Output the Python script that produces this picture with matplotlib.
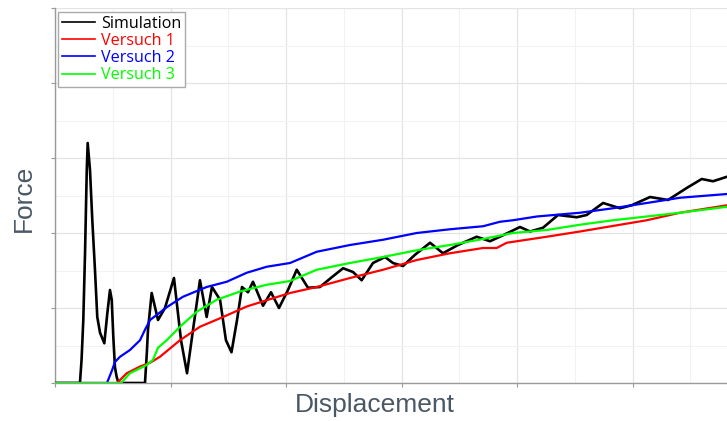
import matplotlib
matplotlib.use("Agg")
import matplotlib.pyplot as plt
from matplotlib.lines import Line2D
from matplotlib.ticker import MultipleLocator, NullFormatter

# Data (arbitrary units)
sim_x = [0, 0.216, 0.230, 0.245, 0.260, 0.275, 0.283, 0.303, 0.323, 0.346, 0.366,
         0.390, 0.427, 0.453, 0.476, 0.491, 0.505, 0.519, 0.534, 0.550, 0.779,
         0.795, 0.805, 0.837, 0.892, 0.952, 1.030, 1.091, 1.143, 1.195, 1.255, 1.313, 1.359,
         1.429, 1.480, 1.528, 1.576, 1.619, 1.671, 1.714, 1.801, 1.870, 1.939, 2.017,
         2.093, 2.190, 2.294, 2.396, 2.494, 2.580, 2.655, 2.753, 2.857, 2.926, 3.013,
         3.117, 3.247, 3.359, 3.489, 3.651, 3.766, 3.879, 4.026, 4.113, 4.225, 4.355,
         4.517, 4.603, 4.745, 4.892, 4.993, 5.152, 5.307, 5.469, 5.599, 5.697, 5.818]
sim_y = [0, 0, 0.31, 0.84, 1.73, 2.84, 3.20, 2.84, 2.17, 1.51, 0.88,
         0.67, 0.53, 0.93, 1.24, 1.11, 0.61, 0.21, 0.08, 0, 0,
         0.40, 0.71, 1.20, 0.84, 1.00, 1.40, 0.57, 0.13, 0.71, 1.37, 0.88, 1.28,
         1.11, 0.57, 0.41, 0.84, 1.28, 1.21, 1.35, 1.03, 1.21, 1.00, 1.24,
         1.51, 1.27, 1.28, 1.41, 1.53, 1.48, 1.37, 1.60, 1.68, 1.60, 1.56,
         1.71, 1.87, 1.73, 1.84, 1.95, 1.89, 1.97, 2.08, 2.02, 2.07, 2.24,
         2.21, 2.24, 2.40, 2.33, 2.37, 2.48, 2.44, 2.60, 2.72, 2.69, 2.75]

v1_x = [0, 0.537, 0.621, 0.736, 0.823, 0.909, 1.082, 1.255, 1.455, 1.660, 1.887,
        2.035, 2.266, 2.554, 2.840, 3.132, 3.420, 3.706, 3.824, 3.911, 4.257, 4.545,
        4.892, 5.123, 5.411, 5.818]
v1_y = [0, 0, 0.13, 0.22, 0.27, 0.35, 0.57, 0.75, 0.88, 1.02, 1.13,
        1.20, 1.28, 1.40, 1.51, 1.64, 1.73, 1.80, 1.80, 1.87, 1.95, 2.02,
        2.11, 2.17, 2.27, 2.37]

v2_x = [0, 0.450, 0.494, 0.519, 0.563, 0.649, 0.736, 0.779, 0.823, 0.967, 1.108,
        1.313, 1.487, 1.660, 1.833, 2.035, 2.266, 2.554, 2.840, 3.132, 3.420, 3.706,
        3.853, 3.965, 4.171, 4.545, 4.831, 5.123, 5.411, 5.818]
v2_y = [0, 0, 0.17, 0.28, 0.35, 0.44, 0.57, 0.71, 0.84, 1.01, 1.15,
        1.28, 1.35, 1.47, 1.55, 1.60, 1.75, 1.84, 1.91, 2.00, 2.05, 2.09,
        2.15, 2.17, 2.22, 2.27, 2.33, 2.40, 2.47, 2.52]

v3_x = [0, 0.571, 0.649, 0.794, 0.848, 0.892, 0.967, 1.082, 1.227, 1.400, 1.602,
        1.833, 2.035, 2.266, 2.554, 2.840, 3.132, 3.420, 3.706, 3.965, 4.257, 4.545,
        4.831, 5.123, 5.411, 5.818]
v3_y = [0, 0, 0.13, 0.24, 0.31, 0.47, 0.57, 0.75, 0.95, 1.11, 1.22,
        1.31, 1.36, 1.51, 1.60, 1.68, 1.77, 1.84, 1.92, 2.00, 2.04, 2.11,
        2.17, 2.22, 2.27, 2.35]

labels = ["Simulation", "Versuch 1", "Versuch 2", "Versuch 3"]
colors = ["#000000", "#ff0000", "#0000ff", "#00ff00"]

W, H = 727, 421
fig = plt.figure(figsize=(W / 100, H / 100), dpi=100)
ax = fig.add_axes([55 / W, (H - 383) / H, (W - 55) / W, (383 - 8) / H])

ax.plot(sim_x, sim_y, color=colors[0], lw=1.9, zorder=3, solid_joinstyle="round")
ax.plot(v1_x, v1_y, color=colors[1], lw=1.6, zorder=4)
ax.plot(v2_x, v2_y, color=colors[2], lw=1.6, zorder=4)
ax.plot(v3_x, v3_y, color=colors[3], lw=1.6, zorder=5)

ax.set_xlim(0, 5.818)
ax.set_ylim(0, 5)
ax.xaxis.set_major_locator(MultipleLocator(1))
ax.xaxis.set_minor_locator(MultipleLocator(0.5))
ax.yaxis.set_major_locator(MultipleLocator(1))
ax.yaxis.set_minor_locator(MultipleLocator(0.5))
ax.xaxis.set_major_formatter(NullFormatter())
ax.yaxis.set_major_formatter(NullFormatter())
ax.grid(which="major", color="#e4e4e4", lw=0.9)
ax.grid(which="minor", color="#f2f2f2", lw=0.8)
ax.set_axisbelow(True)
ax.tick_params(which="major", length=3, color="#9a9a9a", width=0.8)
ax.tick_params(which="minor", length=0)
for side in ["top", "right"]:
    ax.spines[side].set_visible(False)
for side in ["left", "bottom"]:
    ax.spines[side].set_color("#9a9a9a")
    ax.spines[side].set_linewidth(1.0)

label_color = "#4a5866"
fig.text(375 / W, (H - 412) / H, "Displacement", ha="center", va="baseline",
         fontsize=19, color=label_color, family="Liberation Sans")
fig.text(24 / W, 1 - 198 / H, "Force", ha="center", va="center", rotation=90,
         fontsize=19, color=label_color, family="Liberation Sans")

handles = [Line2D([], [], color=c, lw=1.2) for c in colors]
leg = ax.legend(handles, labels, loc="upper left",
                bbox_to_anchor=(57.5 / W, 1 - 11.5 / H), bbox_transform=fig.transFigure,
                borderaxespad=0, frameon=True, fancybox=False, framealpha=1,
                edgecolor="#aaaaaa", handlelength=2.1, handletextpad=0.35,
                labelspacing=0.08, borderpad=0.25,
                prop={"family": "Open Sans", "size": 11.6})
leg.get_frame().set_linewidth(1.0)
for txt, c in zip(leg.get_texts(), colors):
    txt.set_color(c)

fig.savefig("out.png", dpi=100)
